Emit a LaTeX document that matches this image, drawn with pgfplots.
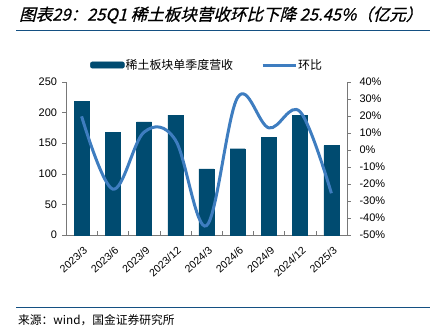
\documentclass[border=0pt]{standalone}
\usepackage{pgfplots}
\pgfplotsset{compat=1.18}
\usepackage{fontspec}
\setmainfont{Liberation Sans}
\newfontfamily\cjk{Noto Sans CJK SC}
\newfontfamily\cjkt[FakeSlant=0.25,FakeBold=0.8]{Noto Sans CJK SC}
\newfontfamily\srcfont{Noto Sans CJK SC}
\definecolor{barblue}{RGB}{0,75,112}
\definecolor{lineblue}{RGB}{62,125,192}
\definecolor{rulecol}{RGB}{20,80,130}
\definecolor{axgray}{RGB}{120,120,120}
\begin{document}
\begin{tikzpicture}
\path[use as bounding box] (0bp,0bp) rectangle (430bp,328bp);
% title
\node[anchor=west,inner sep=0] at (19bp,313bp) {\fontsize{16.6}{18}\selectfont\cjkt 图表29：25Q1 稀土板块营收环比下降 25.45\%（亿元）};
\draw[rulecol,line width=1bp] (16bp,297bp) -- (430bp,297bp);
\draw[rulecol,line width=1bp] (16bp,20bp) -- (430bp,20bp);
\node[anchor=west,inner sep=0] at (18bp,8bp) {\fontsize{11.8}{13}\selectfont\srcfont 来源：wind，国金证券研究所};
\begin{axis}[
  at={(66bp,93bp)}, anchor=south west,
  scale only axis, width=281bp, height=153bp,
  xmin=-0.5, xmax=8.5, ymin=0, ymax=250,
  ytick={0,50,...,250},
  xtick={0,...,8},
  xticklabels={2023/3,2023/6,2023/9,2023/12,2024/3,2024/6,2024/9,2024/12,2025/3},
  x tick label style={font=\fontsize{10.6}{11}\selectfont, inner sep=0pt, xshift=4bp, yshift=-14bp, rotate=42, anchor=east},
  y tick label style={font=\fontsize{11}{12}\selectfont, xshift=-1.5bp},
  major x tick style={draw=none},
  minor xtick={-0.5,0.5,...,8.5},
  minor x tick style={axgray},
  minor tick length=4bp,
  major tick length=4bp,
  xtick align=inside,
  ytick align=outside,
  axis y line*=left, axis x line*=bottom,
  axis line style={axgray,-},
  y tick style={axgray},
  /pgf/number format/assume math mode=true,
  clip=false,
]
\addplot[ybar, bar width=15bp, fill=barblue, draw=barblue, bar shift=0pt] coordinates {
(0,218) (1,168) (2,185) (3,196) (4,108) (5,141) (6,159) (7,196) (8,146)};
\end{axis}
\begin{axis}[
  at={(66bp,93bp)}, anchor=south west,
  scale only axis, width=281bp, height=153bp,
  xmin=-0.5, xmax=8.5, ymin=-50, ymax=40,
  ytick={-50,-40,...,40},
  yticklabel={\pgfmathprintnumber{\tick}\%},
  y tick label style={font=\fontsize{11}{12}\selectfont, xshift=5bp},
  axis y line*=right, axis x line=none,
  axis line style={axgray,-},
  ytick align=outside,
  major tick length=4bp,
  y tick style={axgray},
  /pgf/number format/assume math mode=true,
  legend style={at={(0.0854,1.111)}, anchor=west, draw=none, fill=none,
    legend columns=2, font=\fontsize{12}{13}\selectfont\cjk,
    /tikz/every even column/.append style={column sep=28bp},
    /tikz/every odd column/.append style={column sep=1bp},
    inner sep=0pt, nodes={inner sep=0pt}},
]
\addlegendimage{legend image code/.code={\fill[barblue,rounded corners=2bp] (0bp,-3.2bp) rectangle (34bp,3.2bp);}}
\addlegendentry{稀土板块单季度营收}
\addlegendimage{legend image code/.code={\draw[lineblue,line width=3bp] (0bp,0bp) -- (33bp,0bp);}}
\addlegendentry{环比}
\addplot[lineblue, line width=3bp, smooth, tension=0.6] coordinates {
(0,19.8) (1,-23) (2,10.5) (3,6) (4,-44.5) (5,31) (6,13) (7,22.5) (8,-25.45)};
\end{axis}
\end{tikzpicture}
\end{document}
